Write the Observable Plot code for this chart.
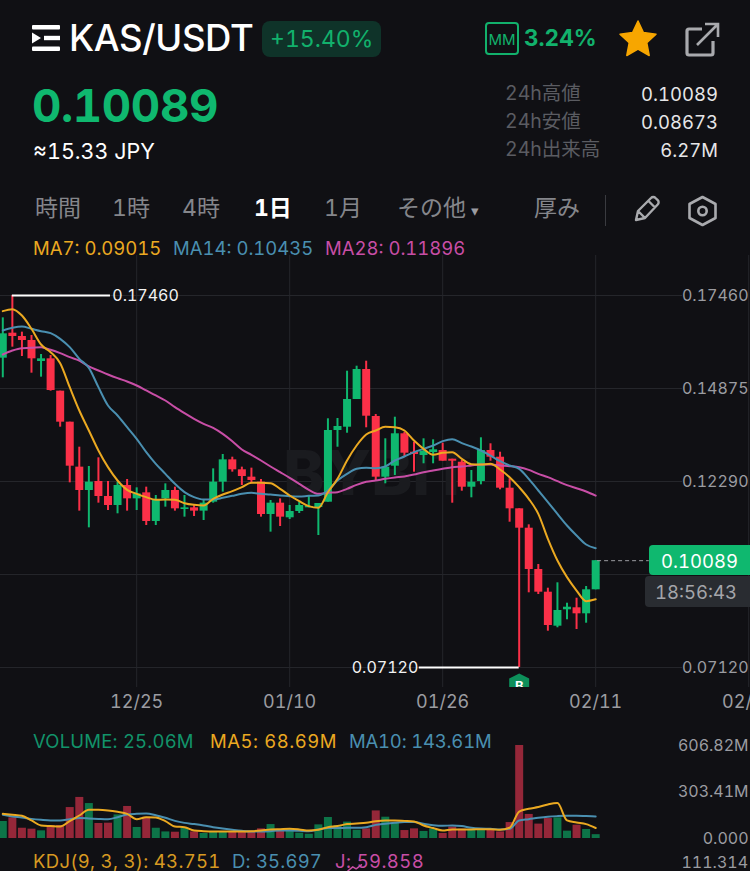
<!DOCTYPE html>
<html><head><meta charset="utf-8">
<script src="https://cdn.jsdelivr.net/npm/d3@7"></script>
<script src="https://cdn.jsdelivr.net/npm/@observablehq/plot@0.6"></script>
<style>
html,body{margin:0;padding:0;background:#101014;overflow:hidden}
#page{position:relative;width:750px;height:871px;overflow:hidden;background:#101014;font-family:Inter,"Noto Sans CJK JP",sans-serif;color:#fff;font-variant-numeric:tabular-nums}
.t{position:absolute;white-space:nowrap;line-height:1;transform:translateY(-50%)}
.r{transform:translate(-100%,-50%)}
.chart{position:absolute;left:0}
svg.icon{position:absolute;overflow:visible}
</style></head><body><div id="page"></div>
<script>
const opens=[.15718,.16413,.16320,.16209,.15626,.15700,.14801,.13939,.12689,.12040,.12290,.11873,.11623,.12179,.11808,.11975,.11178,.11808,.12040,.11512,.11558,.11466,.11716,.12272,.12892,.12615,.12411,.12272,.11373,.11688,.11281,.11456,.11559,.11567,.11715,.13708,.13799,.14569,.15403,.14097,.12410,.12715,.13616,.13104,.13013,.13096,.13152,.12910,.12826,.12131,.12290,.13152,.12965,.12104,.11531,.10992,.09844,.09213,.08268,.08724,.08779,.08612,.09280];
const closes=[.16395,.16320,.16209,.15700,.15700,.14820,.13939,.12716,.12040,.12272,.11873,.11623,.12179,.11808,.11947,.11178,.11781,.12040,.11530,.11558,.11466,.11688,.12272,.12892,.12615,.12429,.12318,.11373,.11688,.11299,.11456,.11623,.11595,.11678,.13708,.13819,.14569,.15403,.14105,.12410,.12687,.13616,.13077,.13040,.13124,.13171,.12854,.12854,.12131,.12270,.13152,.12965,.12104,.11531,.10992,.09844,.09213,.08287,.08704,.08796,.08612,.09280,.10089];
const highs=[.16839,.17460,.16441,.16348,.15820,.15792,.14801,.13939,.13244,.12707,.12948,.12290,.12272,.12346,.12114,.12133,.11901,.12225,.12133,.11901,.11651,.11781,.12642,.13041,.12966,.12689,.12661,.12346,.11762,.11808,.11623,.11715,.11901,.11678,.14033,.14041,.15356,.15495,.15634,.14152,.13477,.14077,.13660,.13382,.13477,.13449,.13355,.12910,.12874,.12596,.13505,.13338,.13104,.12365,.11531,.11086,.09983,.09324,.09474,.08907,.09046,.09371,.10089];
const lows=[.15172,.16024,.15765,.15301,.15190,.14801,.13800,.12253,.11466,.11002,.11688,.11484,.11392,.11466,.11484,.11067,.11067,.11577,.11466,.11299,.11317,.11206,.11688,.11994,.12550,.12179,.12225,.11299,.10882,.11039,.11234,.11400,.11559,.10789,.11715,.13243,.13632,.14569,.13783,.12298,.12226,.12457,.12965,.12548,.12782,.12782,.12854,.11687,.12020,.11837,.12198,.12854,.12059,.11159,.07120,.09196,.09149,.08129,.08224,.08446,.08176,.08351,.09280];
const ma7=[.17025,.17080,.16904,.16534,.16098,.15885,.15579,.14912,.14264,.13708,.13152,.12689,.12318,.12059,.11947,.11855,.11781,.11790,.11781,.11688,.11642,.11623,.11808,.11929,.12021,.12133,.12253,.12253,.12244,.12086,.11901,.11744,.11605,.11558,.11993,.12364,.12874,.13290,.13596,.13707,.13809,.13800,.13707,.13429,.13198,.13031,.13087,.13105,.12920,.12772,.12762,.12781,.12623,.12410,.12132,.11808,.11391,.10696,.10094,.09631,.09260,.08964,.09015];
const ma14=[.16487,.16561,.16598,.16534,.16469,.16413,.16256,.16024,.15700,.15450,.14912,.14403,.14125,.13800,.13476,.13106,.12781,.12503,.12225,.11994,.11855,.11790,.11790,.11836,.11892,.11947,.11975,.11947,.11929,.11901,.11883,.11873,.11892,.11901,.12040,.12318,.12503,.12642,.12670,.12660,.12707,.12874,.12985,.13105,.13198,.13290,.13411,.13467,.13355,.13263,.13152,.13012,.12855,.12735,.12642,.12364,.12040,.11715,.11391,.11067,.10789,.10539,.10435];
const ma28=[.15820,.15931,.15996,.16005,.16024,.15950,.15857,.15746,.15653,.15487,.15375,.15264,.15162,.15070,.14958,.14820,.14681,.14542,.14356,.14189,.14032,.13893,.13782,.13615,.13411,.13180,.13031,.12874,.12707,.12550,.12392,.12225,.12059,.11947,.11975,.11993,.12086,.12197,.12281,.12318,.12364,.12401,.12429,.12484,.12549,.12596,.12642,.12688,.12707,.12735,.12762,.12762,.12735,.12716,.12688,.12614,.12503,.12410,.12299,.12188,.12104,.12012,.11896];
const volumes=[111,135,67,61,50,85,85,202,268,228,98,100,154,209,72,139,67,43,41,67,43,33,41,41,41,39,43,63,91,46,61,35,28,89,137,85,107,54,63,180,139,100,52,63,46,63,33,74,61,52,52,61,43,104,606.82,157,94,130,135,48,87,59,25.06];
const volMa5=[161,155,148,118,85,81,78,113,150,187,187,183,174,161,126,139,137,113,78,74,52,48,46,46,46,46,48,52,59,61,63,59,52,57,74,81,94,98,102,113,118,118,115,111,85,68,52,59,59,59,61,61,57,70,176,194,205,222,231,118,105,94,68.69];
const volMa10=[155,144,137,128,122,118,118,126,133,131,128,126,139,157,161,163,152,135,115,102,94,85,74,65,57,50,46,46,48,52,52,50,48,59,68,68,70,70,74,89,96,102,107,107,96,87,83,85,81,70,65,63,59,63,118,126,135,142,146,148,148,146,143.61];
const kdjDays=[36.1,36.6,36.95,37.5];
const kdjJ=[105,109,107,111];
const priceTicks=[.1746,.14875,.1229,.09705,.0712];
const priceLabels=[.1746,.14875,.1229,.0712];
const volTicks=[0,303.41,606.82];
const dateTicks=["2024-12-25","2025-01-10","2025-01-26","2025-02-11","2025-02-27"].map(s=>new Date(s));

const C={bg:"#101014",grid:"#25262b",axis:"#9b9ca1",up:"#0fb86f",down:"#fb3048",upD:"#0d7448",downD:"#952739",ma7:"#eba921",ma14:"#4a8fb0",ma28:"#c84ea6"};
const FONT='Inter,"Noto Sans CJK JP",sans-serif';
const DAY=864e5, start=Date.UTC(2024,11,11);
const day=n=>new Date(start+n*DAY);
const dates=opens.map((_,i)=>day(i));
const candles=dates.map((date,i)=>({date,open:opens[i],close:closes[i],high:highs[i],low:lows[i],ma7:ma7[i],ma14:ma14[i],ma28:ma28[i],vol:volumes[i],v5:volMa5[i],v10:volMa10[i]}));
const color=d=>d.close>=d.open?C.up:C.down;
const colorD=d=>d.close>=d.open?C.upD:C.downD;
const xOpt={type:"utc",domain:[day(-.24),day(78.19)],range:[0,750]};
const last=candles[candles.length-1];

const price=Plot.plot({
  width:750,height:460,marginTop:0,marginRight:0,marginBottom:28,marginLeft:0,
  style:{background:"transparent",fontFamily:FONT,overflow:"hidden"},
  x:xOpt,
  y:{domain:[.06564,.18572],range:[432,0]},
  marks:[
    Plot.gridX(dateTicks,{stroke:C.grid,strokeOpacity:1}),
    Plot.ruleY(priceTicks,{x1:day(-.24),x2:day(71.08),stroke:C.grid,strokeOpacity:1}),
    Plot.text(["BYBIT"],{x:day(39.2),y:.1246,text:d=>d,fontSize:62,fontWeight:800,fill:"#1a1b1f",letterSpacing:"6px"}),
    Plot.ruleX(candles,{x:"date",y1:"low",y2:"high",stroke:color,strokeWidth:2}),
    Plot.ruleX(candles,{x:"date",y1:"open",y2:"close",stroke:color,strokeWidth:8}),
    Plot.line(candles,{x:"date",y:"ma28",stroke:C.ma28,strokeWidth:2,curve:"monotone-x"}),
    Plot.line(candles,{x:"date",y:"ma14",stroke:C.ma14,strokeWidth:2,curve:"monotone-x"}),
    Plot.line(candles,{x:"date",y:"ma7",stroke:C.ma7,strokeWidth:2,curve:"monotone-x"}),
    Plot.ruleY([.1746],{x1:day(1),x2:day(11.26),stroke:"#fff",strokeWidth:2}),
    Plot.ruleY([.0712],{x1:day(43.55),x2:day(54),stroke:"#fff",strokeWidth:2}),
    Plot.text([.1746],{x:day(11.45),y:d=>d,text:d=>d.toFixed(5),textAnchor:"start",fill:"#f2f2f2",fontSize:16,fontVariant:"tabular-nums"}),
    Plot.text([.0712],{x:day(43.45),y:d=>d,text:d=>d.toFixed(5),textAnchor:"end",fill:"#f2f2f2",fontSize:16,fontVariant:"tabular-nums"}),
    Plot.ruleY([last.close],{x1:day(62.2),x2:day(67.6),stroke:C.axis,strokeDasharray:"4 3",strokeWidth:1}),
    Plot.dot([day(54)],{x:d=>d,y:()=>.0712,r:10,dy:16,fill:"#0d8f5a",stroke:"none",clip:"frame",
      symbol:{draw(ctx,size){const s=Math.sqrt(size/Math.PI);ctx.moveTo(0,-s);ctx.lineTo(s,-s*.5);ctx.lineTo(s,s);ctx.lineTo(-s,s);ctx.lineTo(-s,-s*.5);ctx.closePath();}}}),
    Plot.text([day(54)],{x:d=>d,y:()=>.0712,text:()=>"B",dy:19,fill:"#fff",fontSize:13,fontWeight:700,clip:"frame"}),
    Plot.axisY(priceLabels,{anchor:"right",tickSize:0,tickPadding:0,textAnchor:"end",dx:-2,fill:C.axis,fontSize:16,tickFormat:d=>d.toFixed(5)}),
    Plot.axisX(dateTicks,{anchor:"bottom",tickSize:0,tickPadding:8,fill:C.axis,fontSize:18,tickFormat:d3.utcFormat("%m/%d")})
  ]
});
price.setAttribute("class","chart");price.style.top="255px";

const vol=Plot.plot({
  width:750,height:120,marginTop:0,marginRight:0,marginBottom:7,marginLeft:0,
  style:{background:"transparent",fontFamily:FONT,overflow:"hidden"},
  x:{...xOpt,axis:null},
  y:{domain:[0,737.3],range:[113,0]},
  marks:[
    Plot.ruleX(candles,{x:"date",y1:0,y2:"vol",stroke:colorD,strokeWidth:8}),
    Plot.line(candles,{x:"date",y:"v10",stroke:C.ma14,strokeWidth:2,curve:"monotone-x"}),
    Plot.line(candles,{x:"date",y:"v5",stroke:C.ma7,strokeWidth:2,curve:"monotone-x"}),
    Plot.axisY(volTicks,{anchor:"right",tickSize:0,tickPadding:0,textAnchor:"end",dx:-2,fill:C.axis,fontSize:16,tickFormat:d=>d===0?"0.000":d.toFixed(2)+"M"})
  ]
});
vol.setAttribute("class","chart");vol.style.top="725px";

const kdj=Plot.plot({
  width:750,height:21,marginTop:0,marginRight:0,marginBottom:0,marginLeft:0,
  style:{background:"transparent",fontFamily:FONT,overflow:"hidden"},
  x:{...xOpt,axis:null},
  y:{domain:[104.3,125.3],range:[21,0],axis:null},
  marks:[Plot.line(kdjDays.map((n,i)=>({date:day(n),j:kdjJ[i]})),{x:"date",y:"j",stroke:C.ma28,strokeWidth:1.5})]
});
kdj.setAttribute("class","chart");kdj.style.top="850px";

const page=document.getElementById("page");
page.append(price,vol,kdj);
function T(txt,x,y,size,col,opts={}){
  const e=document.createElement("div");e.className="t"+(opts.right?" r":"");e.textContent=txt;
  e.style.cssText+=`;left:${x}px;top:${y}px;font-size:${size}px;color:${col};font-weight:${opts.w||400};`+(opts.css||"");
  page.append(e);return e;
}
function box(x,y,w,h,bg,css=""){const e=document.createElement("div");e.style.cssText=`position:absolute;left:${x}px;top:${y}px;width:${w}px;height:${h}px;background:${bg};${css}`;page.append(e);return e;}
function icon(x,y,w,h,vb,inner){page.insertAdjacentHTML("beforeend",`<svg class="icon" style="left:${x}px;top:${y}px" width="${w}" height="${h}" viewBox="${vb}">${inner}</svg>`);}

// header
icon(32,25,28,26,"0 0 28 26",`<rect x="0" y="0" width="28" height="4.5" rx="1" fill="#fff"/><rect x="0" y="21.5" width="28" height="4.5" rx="1" fill="#fff"/><path d="M0 7.5L9 13L0 18.5Z" fill="#fff"/><rect x="12" y="10.8" width="16" height="4.4" fill="#fff"/>`);
T("KAS/USDT",69,38,36.5,"#fff",{w:500,css:"letter-spacing:-.4px"});
box(262,21,119,36,"#0f3329","border-radius:8px");
T("+15.40%",270,39,23,"#12b16c",{w:400});
icon(485,22,34,33,"0 0 34 33",`<rect x="1" y="1" width="32" height="31" rx="3" fill="none" stroke="#12b16c" stroke-width="2"/>`);
T("MM",502,39,15,"#12b16c",{css:"transform:translate(-50%,-50%);letter-spacing:0"});
T("3.24%",524,38,22.5,"#12b16c",{w:700});
icon(619,20,38,37,"0 0 38 37",`<path d="M19 1L24.4 12.6L37 14.2L27.8 22.8L30.2 35.5L19 29.2L7.8 35.5L10.2 22.8L1 14.2L13.6 12.6Z" fill="#f7a600" stroke="#f7a600" stroke-linejoin="round" stroke-width="1.5"/>`);
icon(685,22,36,35,"0 0 36 35",`<path d="M17 7H4a2 2 0 0 0-2 2v22a2 2 0 0 0 2 2h22a2 2 0 0 0 2-2V19" fill="none" stroke="#a9aaae" stroke-width="3.2"/><path d="M12 23L32 3M20 2h13v13" fill="none" stroke="#a9aaae" stroke-width="2.6"/>`);
T("0.10089",32,106,45.5,"#0fb86f",{w:700,css:"letter-spacing:-.4px"});
T("≈15.33 JPY",33,152,21.5,"#fff");
[["24h高値","0.10089",94],["24h安値","0.08673",122],["24h出来高","6.27M",150]].forEach(([a,b,y])=>{
  T(a,505,y,19.5,"#5b5c62");T(b,718,y,18.5,"#e6e6e8",{right:true});
});
[["時間",35],["1時",112],["4時",182],["1月",324],["その他",397],["厚み",534]].forEach(([s,x])=>T(s,x,208,23,"#85868b"));
T("1日",254,208,23,"#fff",{w:700});
T("▾",471,210,15,"#9b9ca1");
box(605,195,1,31,"#3a3b40");
icon(633,195,28,28,"0 0 28 28",`<path d="M3 25L5 16L18 3a3 3 0 0 1 4.5 0l2.2 2.2a3 3 0 0 1 0 4.3L12 23Z M5 16L12 23 M15.5 6L22 12.500" fill="none" stroke="#a9aaae" stroke-width="2.4" stroke-linejoin="round"/>`);
icon(688,195,29,32,"0 0 29 32",`<path d="M14.500 2L27.500 9V23L14.500 30L1.500 23V9Z" fill="none" stroke="#a9aaae" stroke-width="2.6" stroke-linejoin="round"/><circle cx="14.500" cy="16" r="4.200" fill="none" stroke="#a9aaae" stroke-width="2.6"/>`);
T("MA7: 0.09015",33,248,18.5,C.ma7);
T("MA14: 0.10435",173,248,18.5,C.ma14);
T("MA28: 0.11896",325,248,18.5,C.ma28);

// price tags
box(649,545,101,30,"#0fb86f","border-radius:4px 0 0 4px");
T("0.10089",661,560.500,18.5,"#fff");
box(645,576,105,31,"#292c31","border-radius:4px 0 0 4px");
T("18:56:43",655,592,18.5,"#a4a5aa");

// volume / KDJ legends
T("VOLUME: 25.06M",33,741,18.5,"#12936a",{css:"letter-spacing:.2px"});
T("MA5: 68.69M",210,741,18.5,C.ma7,{css:"letter-spacing:.55px"});
T("MA10: 143.61M",349,741,18.5,C.ma14,{css:"letter-spacing:-.2px"});
T("KDJ(9, 3, 3): 43.751",33,861,18.5,"#d79a22",{css:"letter-spacing:.3px"});
T("D: 35.697",232,861,18.5,C.ma14,{css:"letter-spacing:.2px"});
T("J: 59.858",335,861,18.5,C.ma28,{css:"letter-spacing:.4px"});
T("111.314",748,862,16,C.axis,{right:true});
</script></body></html>
